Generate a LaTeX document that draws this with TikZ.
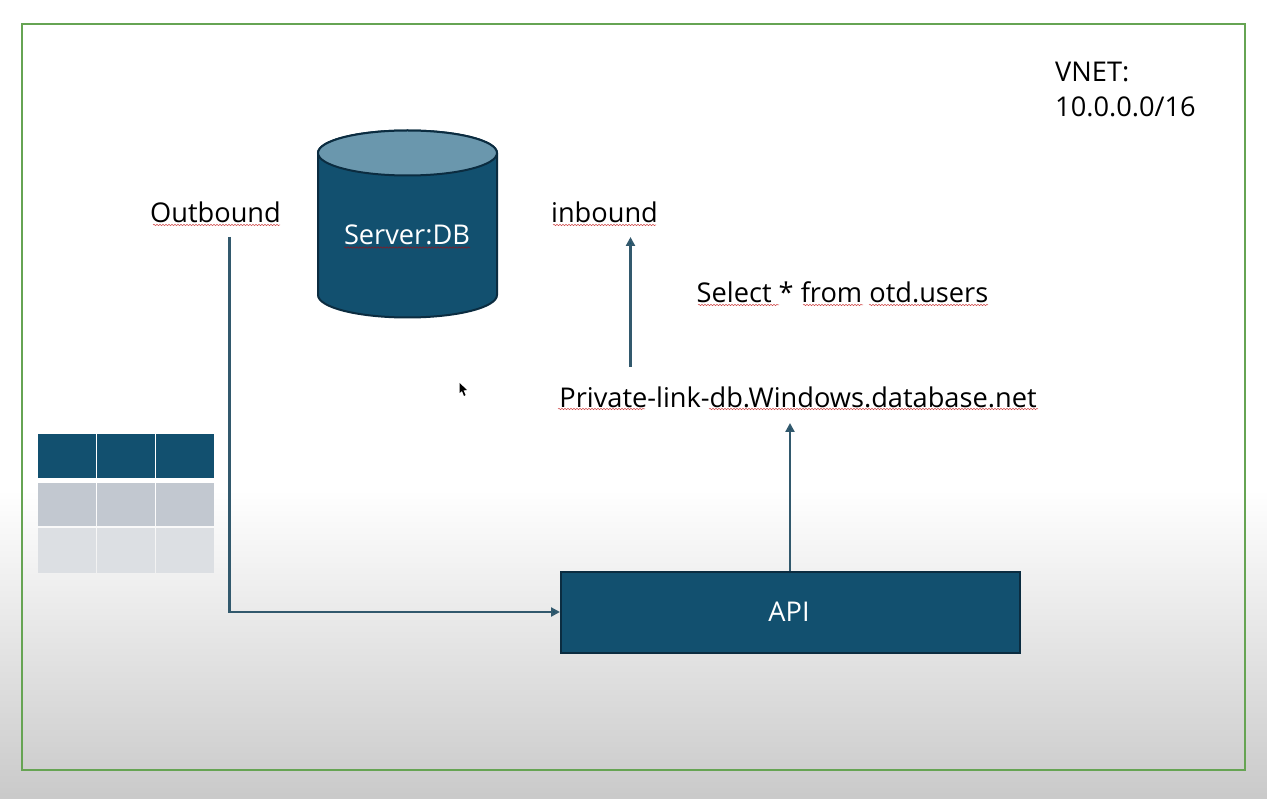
\documentclass[tikz,border=0pt]{standalone}
\usepackage{fontspec}
\setmainfont{Open Sans}
\usetikzlibrary{arrows.meta,decorations.pathmorphing}
\definecolor{teal1}{HTML}{12506F}
\definecolor{teal2}{HTML}{6A97AD}
\definecolor{edge1}{HTML}{0B2C40}
\definecolor{frame1}{HTML}{66A453}
\definecolor{gray1}{HTML}{C2C8D0}
\definecolor{gray2}{HTML}{DCDFE3}
\tikzset{
  lbl/.style={font=\fontsize{27.2}{32}\selectfont,text=black,inner sep=0pt,anchor=base},
  wlbl/.style={lbl,text=white},
  conn/.style={draw=teal1!75!black!85!white,line width=2.2pt,-{Triangle[length=9pt,width=9pt,fill=teal1]}},
  squig/.style={draw=red!75!black,line width=0.5pt,opacity=.7,decorate,decoration={snake,amplitude=0.7pt,segment length=3pt}}
}
\begin{document}
\begin{tikzpicture}[x=1pt,y=-1pt]
\useasboundingbox (0,0) rectangle (1267,799);
\fill[white] (0,0) rectangle (1267,490);
\shade[top color=white,bottom color=black!21] (0,490) rectangle (1267,799);
\draw[frame1,line width=1.8pt] (22,24) rectangle (1245,770);
% table
\foreach \xa/\xb in {38/95.5,97/154.5,156/214}{
  \fill[teal1] (\xa,434) rectangle (\xb,478);
  \fill[gray1] (\xa,483) rectangle (\xb,526);
  \fill[gray2] (\xa,528) rectangle (\xb,573);
}
% cylinder
\path[fill=teal1,draw=edge1,line width=2pt] (318,153) -- (318,295) arc[start angle=180,end angle=0,x radius=89.5,y radius=22.5] -- (497,153) arc[start angle=0,end angle=-180,x radius=89.5,y radius=22.5] -- cycle;
\path[fill=teal2,draw=edge1,line width=2pt] (407.5,153) ellipse[x radius=89.5,y radius=22.5];
\node[wlbl] (db) at (407,244.5) {Server:DB};
\draw[squig] (344,247.5) -- (470,247.5);
% api
\node[fill=teal1,draw=edge1,line width=2pt,minimum width=459pt,minimum height=81pt,inner sep=0pt] (api) at (790.5,612) {};
\node[wlbl] (apil) at (789,621.5) {API};
% labels
\node[lbl] (out) at (215.5,223) {Outbound};
\draw[squig] (153,225) -- (280,225);
\node[lbl] (in) at (604.5,223) {inbound};
\draw[squig] (553,225) -- (656,225);
\node[lbl] (sel) at (842.5,303) {Select * from otd.users};
\draw[squig] (698,305) -- (779,305);
\draw[squig] (803,305) -- (863,305);
\draw[squig] (869,305) -- (988,305);
\node[lbl] (pl) at (798,407.5) {Private-link-db.Windows.database.net};
\draw[squig] (558,409) -- (645,409);
\draw[squig] (709,409) -- (1038,409);
\node[lbl,anchor=base west] (vnet) at (1055,82) {VNET:};
\node[lbl,anchor=base west] (cidr) at (1055,117) {10.0.0.0/16};
% connectors
\coordinate (os) at (229.5,237);
\coordinate (is) at (630.5,367);
\coordinate (it) at (630.5,237);
\coordinate (pt) at (790,423);
\draw[conn] (os) |- (api.west);
\draw[conn] (is) -- (it);
\draw[conn] (pt |- api.north) -- (pt);
% cursor
\fill[black] (459.5,383) -- (459.5,393) -- (462,391) -- (464,396) -- (465.5,395) -- (463.5,390.5) -- (467,390) -- cycle;
\end{tikzpicture}
\end{document}
